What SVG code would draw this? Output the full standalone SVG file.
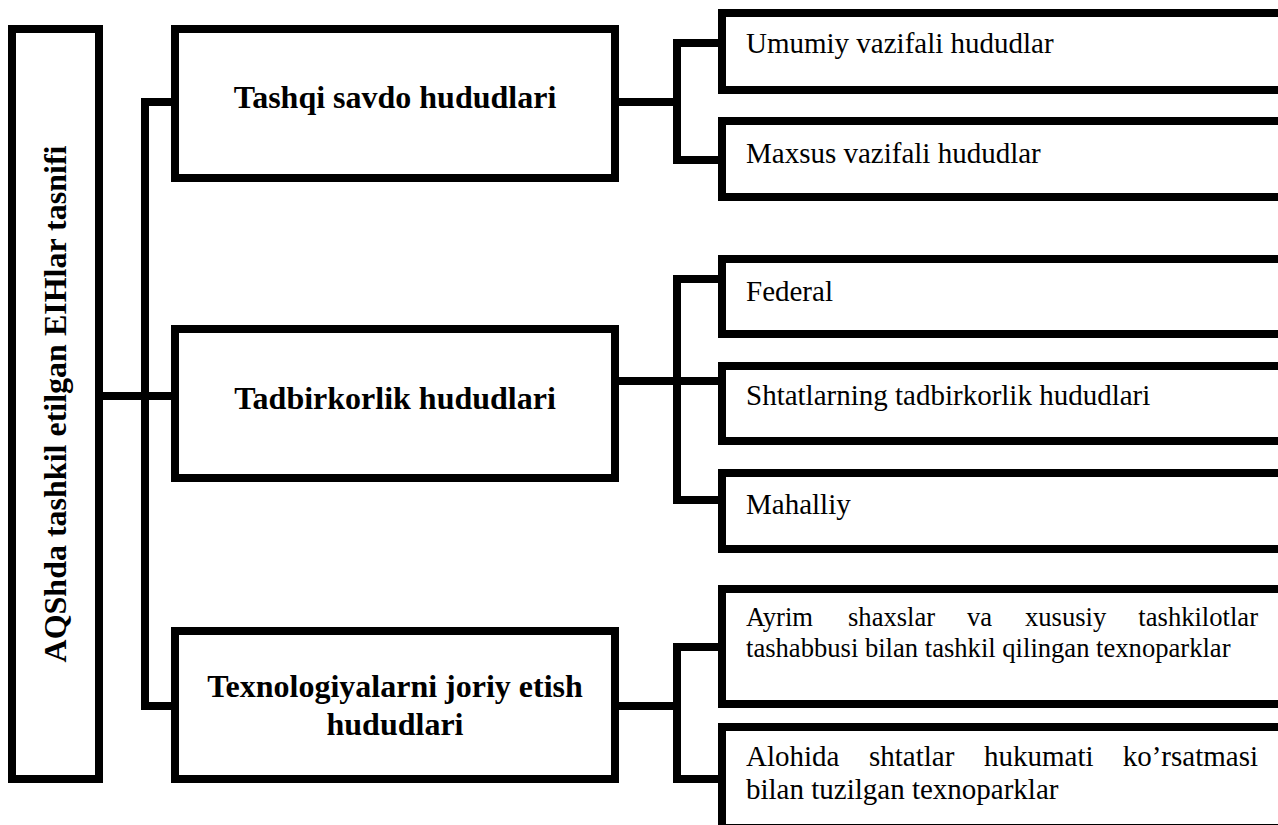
<svg xmlns="http://www.w3.org/2000/svg" width="1278" height="825" viewBox="0 0 1278 825">
<style>
.box{fill:#fff;stroke:#000;stroke-width:8}
.con{fill:none;stroke:#000;stroke-width:8;stroke-linejoin:miter}
.b{font-family:"Liberation Serif","Times New Roman",serif;font-weight:bold;font-size:32px;fill:#000}
.r{font-family:"Liberation Serif","Times New Roman",serif;font-size:29px;fill:#000}
.s{font-family:"Liberation Serif","Times New Roman",serif;font-size:26.6px;fill:#000}
</style>
<rect width="1278" height="825" fill="#fff"/>
<g id="connectors">
<path class="con" d="M103,396 H175"/>
<path class="con" d="M175,102 H145 V706 H175"/>
<path class="con" d="M615,102 H677"/>
<path class="con" d="M722,43 H677 V160 H722"/>
<path class="con" d="M615,381 H722"/>
<path class="con" d="M722,279 H677 V500 H722"/>
<path class="con" d="M615,706 H677"/>
<path class="con" d="M722,647 H677 V779 H722"/>
</g>
<g id="root">
<rect class="box" x="12" y="29" width="87" height="750"/>
<text class="b" text-anchor="middle" transform="translate(66,404) rotate(-90)">AQShda tashkil etilgan EIHlar tasnifi</text>
</g>
<g id="tashqi">
<rect class="box" x="175" y="29" width="440" height="149"/>
<text class="b" x="395" y="108" text-anchor="middle">Tashqi savdo hududlari</text>
</g>
<g id="tadbirkorlik">
<rect class="box" x="175" y="329" width="440" height="149"/>
<text class="b" x="395" y="409" text-anchor="middle">Tadbirkorlik hududlari</text>
</g>
<g id="texnologiya">
<rect class="box" x="175" y="631" width="440" height="148"/>
<text class="b" x="395" y="697" text-anchor="middle">Texnologiyalarni joriy etish</text>
<text class="b" x="395" y="735" text-anchor="middle">hududlari</text>
</g>
<g id="umumiy">
<rect class="box" x="722" y="13" width="600" height="77"/>
<text class="r" x="746" y="53">Umumiy vazifali hududlar</text>
</g>
<g id="maxsus">
<rect class="box" x="722" y="121" width="600" height="76"/>
<text class="r" x="746" y="163">Maxsus vazifali hududlar</text>
</g>
<g id="federal">
<rect class="box" x="722" y="259" width="600" height="75"/>
<text class="r" x="746" y="301">Federal</text>
</g>
<g id="shtatlar">
<rect class="box" x="722" y="366" width="600" height="75"/>
<text class="r" x="746" y="405">Shtatlarning tadbirkorlik hududlari</text>
</g>
<g id="mahalliy">
<rect class="box" x="722" y="473" width="600" height="76"/>
<text class="r" x="746" y="514">Mahalliy</text>
</g>
<g id="ayrim">
<rect class="box" x="722" y="589" width="600" height="115"/>
<text class="s" y="626"><tspan x="746">Ayrim</tspan><tspan x="848">shaxslar</tspan><tspan x="967">va</tspan><tspan x="1025">xususiy</tspan><tspan x="1258" text-anchor="end">tashkilotlar</tspan></text>
<text class="s" x="746" y="657">tashabbusi bilan tashkil qilingan texnoparklar</text>
</g>
<g id="alohida">
<rect class="box" x="722" y="727" width="600" height="101"/>
<text class="r" y="766"><tspan x="746">Alohida</tspan><tspan x="869">shtatlar</tspan><tspan x="984">hukumati</tspan><tspan x="1258" text-anchor="end">ko’rsatmasi</tspan></text>
<text class="r" x="746" y="799">bilan tuzilgan texnoparklar</text>
</g>
</svg>
